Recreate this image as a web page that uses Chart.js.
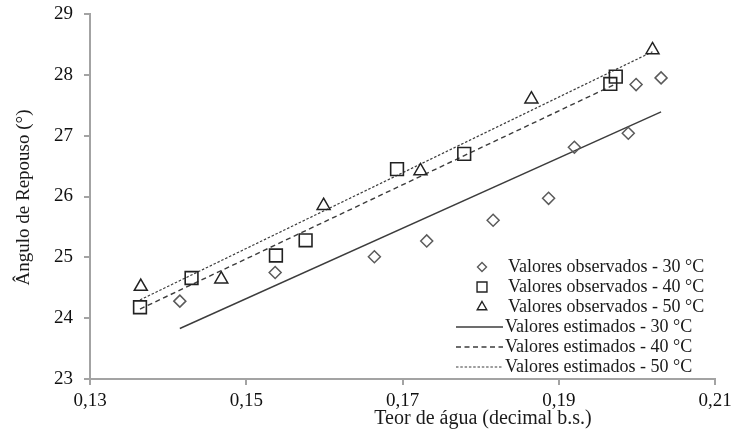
<!DOCTYPE html>
<html>
<head>
<meta charset="utf-8">
<script src="https://cdn.jsdelivr.net/npm/chart.js@4.4.1/dist/chart.umd.min.js"></script>
<style>
  html, body { margin: 0; padding: 0; background: #ffffff; }
  #wrap { width: 742px; height: 435px; }
</style>
</head>
<body>
<div id="wrap"><canvas id="c" width="742" height="435"></canvas></div>
<script>
// ---- data ----
const seriesNames = [
  'Valores observados - 30 °C',
  'Valores observados - 40 °C',
  'Valores observados - 50 °C',
  'Valores estimados - 30 °C',
  'Valores estimados - 40 °C',
  'Valores estimados - 50 °C'
];
const obs30X = [0.1415, 0.1537, 0.1664, 0.1731, 0.1816, 0.1887, 0.1920, 0.1989, 0.1999, 0.2031];
const obs30Y = [24.28, 24.75, 25.01, 25.27, 25.61, 25.97, 26.81, 27.04, 27.84, 27.95];
const obs40X = [0.1364, 0.1430, 0.1538, 0.1576, 0.1693, 0.1779, 0.1966, 0.1973];
const obs40Y = [24.18, 24.66, 25.03, 25.28, 26.45, 26.70, 27.85, 27.97];
const obs50X = [0.1365, 0.1468, 0.1599, 0.1723, 0.1865, 0.2020];
const obs50Y = [24.52, 24.64, 25.85, 26.42, 27.60, 28.41];
const est30X = [0.1415, 0.2031];
const est30Y = [23.83, 27.39];
const est40X = [0.1364, 0.1973];
const est40Y = [24.15, 27.85];
const est50X = [0.1364, 0.2020];
const est50Y = [24.30, 28.38];
const xTicks = [0.13, 0.15, 0.17, 0.19, 0.21];
const yTicks = [23, 24, 25, 26, 27, 28, 29];
const xTitle = 'Teor de água (decimal b.s.)';
const yTitle = 'Ângulo de Repouso (°)';

const pts = (xs, ys) => xs.map((x, i) => ({ x: x, y: ys[i] }));
const SERIF = '"Liberation Serif", "Times New Roman", serif';
const LINE_COL = '#3c3c3c';

const datasets = [
  { label: seriesNames[0], data: pts(obs30X, obs30Y), pointStyle: 'rectRot', pointRadius: 6,
    pointBorderColor: '#5a5a5a', pointBackgroundColor: 'rgba(0,0,0,0)', pointBorderWidth: 1.5, showLine: false,
    legendR: 4.5 },
  { label: seriesNames[1], data: pts(obs40X, obs40Y), pointStyle: 'rect', pointRadius: 9,
    pointBorderColor: '#222222', pointBackgroundColor: 'rgba(0,0,0,0)', pointBorderWidth: 1.6, showLine: false,
    legendR: 7 },
  { label: seriesNames[2], data: pts(obs50X, obs50Y), pointStyle: 'triangle', pointRadius: 7.5,
    pointBorderColor: '#222222', pointBackgroundColor: 'rgba(0,0,0,0)', pointBorderWidth: 1.5, showLine: false,
    legendR: 5.5 },
  { label: seriesNames[3], data: pts(est30X, est30Y), showLine: true, pointRadius: 0,
    borderColor: LINE_COL, borderWidth: 1.4, borderDash: [] },
  { label: seriesNames[4], data: pts(est40X, est40Y), showLine: true, pointRadius: 0,
    borderColor: LINE_COL, borderWidth: 1.4, borderDash: [5, 3.5] },
  { label: seriesNames[5], data: pts(est50X, est50Y), showLine: true, pointRadius: 0,
    borderColor: LINE_COL, borderWidth: 1.2, borderDash: [2.5, 1.8] }
];

function drawMarker(ctx, style, x, y, r) {
  ctx.beginPath();
  if (style === 'rectRot') {
    ctx.moveTo(x, y - r); ctx.lineTo(x + r, y); ctx.lineTo(x, y + r); ctx.lineTo(x - r, y); ctx.closePath();
  } else if (style === 'rect') {
    const s = r * Math.SQRT1_2;
    ctx.rect(x - s, y - s, 2 * s, 2 * s);
  } else if (style === 'triangle') {
    const w = r * Math.sin(2 * Math.PI / 3);
    ctx.moveTo(x, y - r); ctx.lineTo(x + w, y + r / 2); ctx.lineTo(x - w, y + r / 2); ctx.closePath();
  }
  ctx.stroke();
}

const overlay = {
  id: 'overlay',
  afterDraw(chart) {
    const ctx = chart.ctx;
    const a = chart.chartArea;
    ctx.save();
    ctx.fillStyle = '#1a1a1a';
    ctx.font = '20px ' + SERIF;
    ctx.textAlign = 'center';
    ctx.textBaseline = 'middle';
    ctx.fillText(xTitle, a.left + 393, a.bottom + 40);
    ctx.font = '19px ' + SERIF;
    ctx.save();
    ctx.translate(a.left - 66, (a.top + a.bottom) / 2 + 1);
    ctx.rotate(-Math.PI / 2);
    ctx.fillText(yTitle, 0, 0);
    ctx.restore();

    // legend (inside plot, lower right)
    const markX = a.left + 392;
    const y0 = a.top + 253;
    const step = 20;
    ctx.font = '18px ' + SERIF;
    ctx.textAlign = 'left';
    chart.data.datasets.forEach((ds, i) => {
      const y = y0 + i * step;
      if (!ds.showLine) {
        ctx.strokeStyle = ds.pointBorderColor;
        ctx.lineWidth = 1.4;
        ctx.setLineDash([]);
        drawMarker(ctx, ds.pointStyle, markX, y, ds.legendR);
        ctx.fillStyle = '#1a1a1a';
        ctx.fillText(ds.label, markX + 26, y);
      } else {
        ctx.strokeStyle = ds.borderColor;
        ctx.lineWidth = ds.borderWidth;
        ctx.setLineDash(ds.borderDash);
        ctx.beginPath();
        ctx.moveTo(markX - 26, y); ctx.lineTo(markX + 21, y);
        ctx.stroke();
        ctx.setLineDash([]);
        ctx.fillStyle = '#1a1a1a';
        ctx.fillText(ds.label, markX + 23, y);
      }
    });
    ctx.restore();
  }
};

const AXIS_COL = '#a3a3a3';
new Chart(document.getElementById('c'), {
  type: 'scatter',
  data: { datasets: datasets },
  options: {
    responsive: false,
    animation: false,
    devicePixelRatio: 1,
    layout: { padding: { left: 0, top: 14, right: 27, bottom: 0 } },
    plugins: { legend: { display: false }, tooltip: { enabled: false } },
    scales: {
      x: {
        type: 'linear',
        min: xTicks[0], max: xTicks[xTicks.length - 1],
        afterFit: (s) => { s.height = 56; s.paddingLeft = 0; s.paddingRight = 0; },
        afterBuildTicks: (s) => { s.ticks = xTicks.map(v => ({ value: v })); },
        border: { display: true, color: AXIS_COL, width: 2 },
        grid: { display: true, drawOnChartArea: false, drawTicks: true, tickLength: 6, color: AXIS_COL, lineWidth: 2 },
        ticks: {
          padding: 5, color: '#111111', font: { family: SERIF, size: 19 },
          maxRotation: 0, autoSkip: false,
          callback: (v) => Number(v).toFixed(2).replace('.', ',')
        }
      },
      y: {
        type: 'linear',
        min: yTicks[0], max: yTicks[yTicks.length - 1],
        afterFit: (s) => { s.width = 90; s.paddingTop = 0; s.paddingBottom = 0; },
        afterBuildTicks: (s) => { s.ticks = yTicks.map(v => ({ value: v })); },
        border: { display: true, color: AXIS_COL, width: 2 },
        grid: { display: true, drawOnChartArea: false, drawTicks: true, tickLength: 6, color: AXIS_COL, lineWidth: 2 },
        ticks: {
          padding: 11, color: '#111111', font: { family: SERIF, size: 19 },
          autoSkip: false,
          callback: (v) => String(v)
        }
      }
    }
  },
  plugins: [overlay]
});
</script>
</body>
</html>
